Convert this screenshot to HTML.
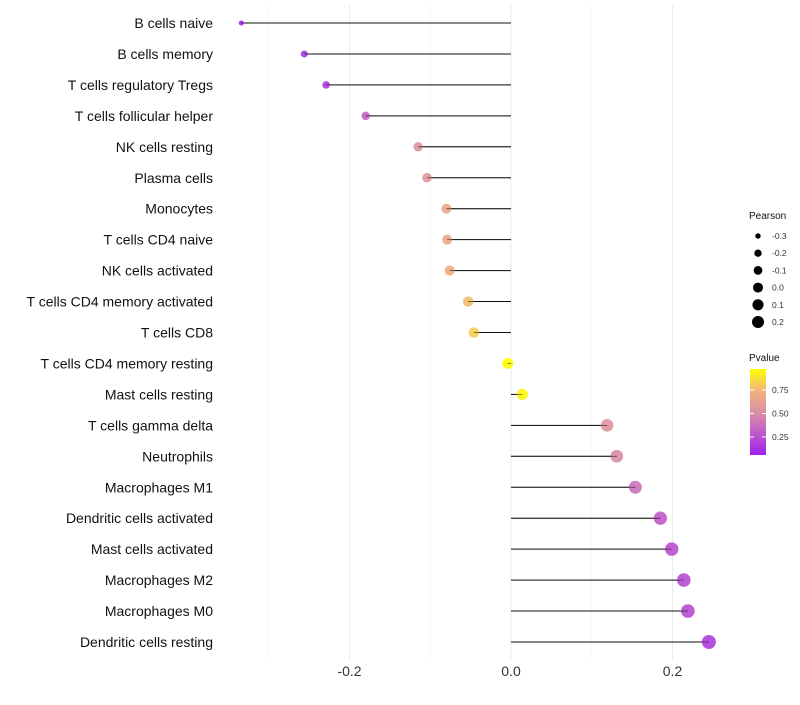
<!DOCTYPE html>
<html><head><meta charset="utf-8"><style>
body{margin:0;background:#fff;font-family:"Liberation Sans",sans-serif}
</style></head><body>
<svg id="c" width="800" height="700" xmlns="http://www.w3.org/2000/svg">
<defs><linearGradient id="pg" x1="0" y1="1" x2="0" y2="0">
<stop offset="0" stop-color="#a020f0"/><stop offset="0.48" stop-color="#d98ca8"/><stop offset="0.75" stop-color="#f2b47a"/><stop offset="1" stop-color="#ffff00"/></linearGradient></defs>
</svg>
<script>
const categories=["B cells naive","B cells memory","T cells regulatory  Tregs","T cells follicular helper","NK cells resting","Plasma cells","Monocytes","T cells CD4 naive","NK cells activated","T cells CD4 memory activated","T cells CD8","T cells CD4 memory resting","Mast cells resting","T cells gamma delta","Neutrophils","Macrophages M1","Dendritic cells activated","Mast cells activated","Macrophages M2","Macrophages M0","Dendritic cells resting"];
const pearson=[-0.334,-0.256,-0.229,-0.180,-0.115,-0.104,-0.080,-0.079,-0.076,-0.053,-0.046,-0.004,0.014,0.119,0.131,0.154,0.185,0.199,0.214,0.219,0.245];
const pvalue=[0.08,0.15,0.16,0.32,0.54,0.57,0.66,0.67,0.7,0.77,0.82,0.98,0.94,0.55,0.5,0.4,0.3,0.25,0.24,0.24,0.18];
const xTicks=[-0.2,0.0,0.2];
const sizeLegend=[-0.3,-0.2,-0.1,0.0,0.1,0.2];
const pTicks=[0.25,0.5,0.75];
const svg=document.getElementById('c');const NS="http://www.w3.org/2000/svg";
function mk(t,a,name,p){const e=document.createElementNS(NS,t);for(const k in a)e.setAttribute(k,a[k]);


(p||svg).appendChild(e);return e;}
const xs=v=>511+v*807.5;
const ys=i=>23+i*30.95;
const rs=v=>Math.max(1.5,Math.sqrt(Math.max(0,12.25+(v+0.256)*73)));
const stops=[[0.06,[160,32,240]],[0.5,[217,140,168]],[0.75,[242,180,122]],[0.97,[255,255,0]]];
function col(p){if(p<=stops[0][0])return 'rgb('+stops[0][1]+')';for(let i=1;i<stops.length;i++){if(p<=stops[i][0]){const a=stops[i-1],b=stops[i],t=(p-a[0])/(b[0]-a[0]);return 'rgb('+a[1].map((c,j)=>Math.round(c+(b[1][j]-c)*t))+')';}}return 'rgb('+stops[3][1]+')';}
for(let v=-0.3;v<=0.25;v+=0.1){const g=Math.abs(Math.round(v*10)%2)===0;mk('line',{x1:xs(v),x2:xs(v),y1:5,y2:660,stroke:g?'#ebebeb':'#f4f4f4','stroke-width':g?1:0.6},'grid-line');}
xTicks.forEach(v=>{const t=mk('text',{x:xs(v),y:676,'text-anchor':'middle','font-size':14,fill:'#333'},'x-tick-label');t.textContent=v.toFixed(1);});
categories.forEach((c,i)=>{const y=ys(i);
const t=mk('text',{x:213,y:y+5,'text-anchor':'end','font-size':14,fill:'#111'},'y-tick-label');t.textContent=c;
mk('line',{x1:xs(0),x2:xs(pearson[i]),y1:y,y2:y,stroke:'#111','stroke-width':1},'stem');
mk('circle',{cx:xs(pearson[i]),cy:y,r:rs(pearson[i]),fill:col(pvalue[i]),'fill-opacity':0.9},'point');
mk('line',{x1:xs(0),x2:xs(pearson[i]),y1:y,y2:y,stroke:'#111','stroke-width':0.8,'stroke-opacity':0.6},'stem-overlay');});
let t=mk('text',{x:749,y:219,'font-size':10,fill:'#111'},'size-legend-title');t.textContent='Pearson';
sizeLegend.forEach((v,i)=>{const y=236+i*17.2;mk('circle',{cx:758,cy:y,r:Math.min(6,rs(v)*0.9),fill:'#000'},'size-legend-key');
const l=mk('text',{x:772,y:y+3,'font-size':8.5,fill:'#333'},'size-legend-label');l.textContent=v.toFixed(1);});
t=mk('text',{x:749,y:361,'font-size':10,fill:'#111'},'color-legend-title');t.textContent='Pvalue';
mk('rect',{x:750,y:369,width:16,height:86,fill:'url(#pg)'},'colorbar');
const py=p=>437-(p-0.25)*94;
pTicks.forEach(p=>{mk('line',{x1:750,x2:754,y1:py(p),y2:py(p),stroke:'#fff'},'colorbar-tick');mk('line',{x1:762,x2:766,y1:py(p),y2:py(p),stroke:'#fff'},'colorbar-tick');
const l=mk('text',{x:772,y:py(p)+3,'font-size':8.5,fill:'#333'},'colorbar-label');l.textContent=p.toFixed(2);});
</script>
</body></html>
